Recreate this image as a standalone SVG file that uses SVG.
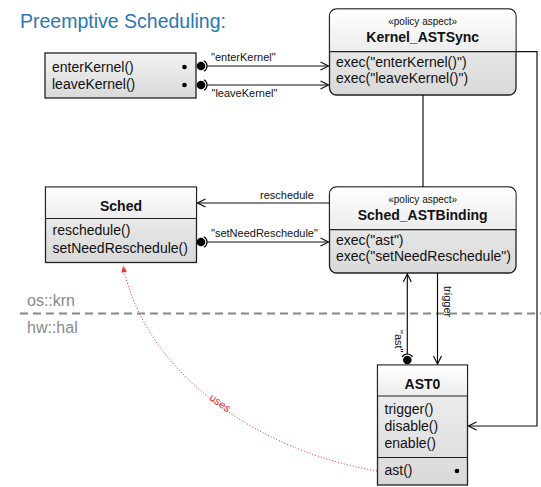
<svg xmlns="http://www.w3.org/2000/svg" width="541" height="487" viewBox="0 0 541 487">
  <style>
    text { font-family: "Liberation Sans", Arial, sans-serif; fill: #111; }
    .title { font-size: 19.5px; fill: #2a77b5; }
    .stereo { font-size: 10px; text-anchor: middle; }
    .name { font-size: 14px; font-weight: bold; text-anchor: middle; }
    .member { font-size: 14px; }
    .lbl { font-size: 11px; }
    .pkg { font-size: 16px; fill: #8a8a8a; }
    .uses { font-size: 11px; fill: #f03030; }
    .box { stroke: #222; stroke-width: 1.3; }
    .sep { stroke: #222; stroke-width: 1.2; fill: none; }
    .edge { stroke: #111; stroke-width: 1.2; fill: none; }
    .ball { fill: #000; }
    .socket { stroke: #000; stroke-width: 1.2; fill: none; }
    .dot { fill: #000; }
  </style>
  <defs>
    <linearGradient id="hdr" x1="0" y1="0" x2="0" y2="1">
      <stop offset="0" stop-color="#ffffff"/>
      <stop offset="1" stop-color="#ececec"/>
    </linearGradient>
    <linearGradient id="cmp" x1="0" y1="0" x2="0" y2="1">
      <stop offset="0" stop-color="#f3f3f3"/>
      <stop offset="1" stop-color="#d9d9d9"/>
    </linearGradient>
    <marker id="open" viewBox="0 0 10 10" refX="9" refY="5" markerWidth="10" markerHeight="10" markerUnits="userSpaceOnUse" orient="auto">
      <path d="M1,1 L9,5 L1,9" fill="none" stroke="#111" stroke-width="1.2"/>
    </marker>
    <marker id="redhead" viewBox="0 0 10 10" refX="9" refY="5" markerWidth="7" markerHeight="7" markerUnits="userSpaceOnUse" orient="auto">
      <path d="M0,1 L9,5 L0,9 Z" fill="#f03030"/>
    </marker>
  </defs>

  <rect width="541" height="487" fill="#ffffff"/>

  <text class="title" x="20" y="28">Preemptive Scheduling:</text>

  <!-- package boundary -->
  <g id="packages">
    <line x1="20" y1="313.5" x2="541" y2="313.5" stroke="#888" stroke-width="2" stroke-dasharray="8 5"/>
    <text class="pkg" x="27" y="306">os::krn</text>
    <text class="pkg" x="27" y="333">hw::hal</text>
  </g>

  <!-- kernel entry / exit joinpoints -->
  <g id="kernel-joinpoints">
    <rect class="box" x="45" y="53" width="151" height="45" fill="url(#cmp)"/>
    <text class="member" x="52" y="71.5">enterKernel()</text>
    <text class="member" x="52" y="88.5">leaveKernel()</text>
    <circle class="dot" cx="184.5" cy="67" r="2.3"/>
    <circle class="dot" cx="184.5" cy="85" r="2.3"/>
  </g>

  <g id="Kernel_ASTSync">
    <rect class="box" x="329.5" y="9" width="186.5" height="86" rx="7" fill="url(#cmp)"/>
    <path d="M336.5,9.6 H509 A6.4,6.4 0 0 1 515.4,16 V51.7 H330.1 V16 A6.4,6.4 0 0 1 336.5,9.6 Z" fill="url(#hdr)"/>
    <line class="sep" x1="329.5" y1="51.7" x2="516" y2="51.7"/>
    <text class="stereo" x="422.7" y="25">«policy aspect»</text>
    <text class="name" x="422.7" y="41.7">Kernel_ASTSync</text>
    <text class="member" x="336" y="66.7">exec("enterKernel()")</text>
    <text class="member" x="336" y="83.3">exec("leaveKernel()")</text>
  </g>

  <g id="Sched">
    <rect class="box" x="45.5" y="187" width="151" height="75.5" fill="url(#cmp)"/>
    <rect x="46.2" y="187.7" width="149.6" height="30.8" fill="url(#hdr)"/>
    <line class="sep" x1="45.5" y1="218.5" x2="196.5" y2="218.5"/>
    <text class="name" x="121" y="211">Sched</text>
    <text class="member" x="52.5" y="235">reschedule()</text>
    <text class="member" x="52.5" y="252.5">setNeedReschedule()</text>
  </g>

  <g id="Sched_ASTBinding">
    <rect class="box" x="329.5" y="187" width="186.5" height="86" rx="7" fill="url(#cmp)"/>
    <path d="M336.5,187.6 H509 A6.4,6.4 0 0 1 515.4,194 V229.7 H330.1 V194 A6.4,6.4 0 0 1 336.5,187.6 Z" fill="url(#hdr)"/>
    <line class="sep" x1="329.5" y1="229.7" x2="516" y2="229.7"/>
    <text class="stereo" x="422.7" y="203">«policy aspect»</text>
    <text class="name" x="422.7" y="219.7">Sched_ASTBinding</text>
    <text class="member" x="336" y="244.7">exec("ast")</text>
    <text class="member" x="336" y="261.3">exec("setNeedReschedule")</text>
  </g>

  <g id="AST0">
    <rect class="box" x="377.5" y="365" width="90" height="120" fill="url(#cmp)"/>
    <rect x="378.2" y="365.7" width="88.6" height="30.3" fill="url(#hdr)"/>
    <line class="sep" x1="377.5" y1="396" x2="467.5" y2="396"/>
    <line class="sep" x1="377.5" y1="457.5" x2="467.5" y2="457.5"/>
    <text class="name" x="422.5" y="388.5">AST0</text>
    <text class="member" x="384.5" y="413.5">trigger()</text>
    <text class="member" x="384.5" y="430.5">disable()</text>
    <text class="member" x="384.5" y="447.5">enable()</text>
    <text class="member" x="384.5" y="474.5">ast()</text>
    <circle class="dot" cx="457" cy="471" r="2.3"/>
  </g>

  <g id="connectors">
    <!-- enterKernel / leaveKernel advice bindings -->
    <circle class="ball" cx="201" cy="66" r="4.3"/>
    <path class="socket" d="M204,60.8 A6,6 0 0 1 204,71.2"/>
    <line class="edge" x1="207" y1="66" x2="328.5" y2="66" marker-end="url(#open)"/>
    <text class="lbl" x="211" y="61">"enterKernel"</text>

    <circle class="ball" cx="201" cy="85" r="4.3"/>
    <path class="socket" d="M204,79.8 A6,6 0 0 1 204,90.2"/>
    <line class="edge" x1="207" y1="85" x2="328.5" y2="85" marker-end="url(#open)"/>
    <text class="lbl" x="211.5" y="97">"leaveKernel"</text>

    <!-- aspect association -->
    <line class="edge" x1="423" y1="95" x2="423" y2="187"/>

    <!-- reschedule call -->
    <line class="edge" x1="329.5" y1="203" x2="197.5" y2="203" marker-end="url(#open)"/>
    <text class="lbl" x="260" y="199">reschedule</text>

    <!-- setNeedReschedule binding -->
    <circle class="ball" cx="201" cy="242" r="4.3"/>
    <path class="socket" d="M204,236.8 A6,6 0 0 1 204,247.2"/>
    <line class="edge" x1="207" y1="242" x2="328.5" y2="242" marker-end="url(#open)"/>
    <text class="lbl" x="211" y="237">"setNeedReschedule"</text>

    <!-- enable / disable control of AST0 -->
    <path class="edge" d="M516,51.7 H537 V426 H468.5" marker-end="url(#open)"/>

    <!-- ast binding -->
    <circle class="ball" cx="407.3" cy="360" r="4.3"/>
    <path class="socket" d="M402.1,357 A6,6 0 0 1 412.5,357"/>
    <line class="edge" x1="407.3" y1="354" x2="407.3" y2="274" marker-end="url(#open)"/>
    <text class="lbl" transform="translate(395,330) rotate(90)">"ast"</text>

    <!-- trigger call -->
    <line class="edge" x1="437.5" y1="273" x2="437.5" y2="364" marker-end="url(#open)"/>
    <text class="lbl" transform="translate(443.5,286) rotate(90)">trigger</text>

    <!-- uses dependency -->
    <path d="M377,471 C255,450 145,372 123,266" fill="none" stroke="#f03030" stroke-width="1" stroke-dasharray="1 2" marker-end="url(#redhead)"/>
    <text class="uses" text-anchor="middle" transform="translate(218,406) rotate(35)">uses</text>
  </g>
</svg>
